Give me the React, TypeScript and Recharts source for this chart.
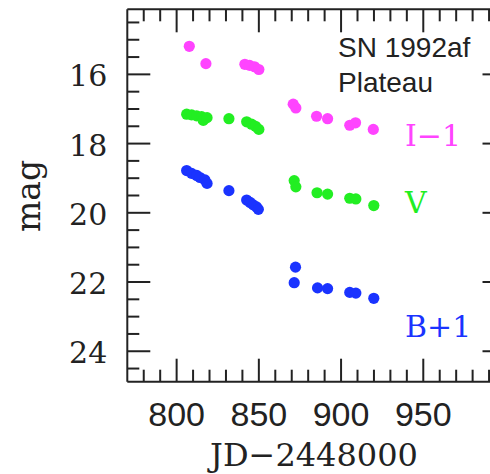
import React from 'react';
import { ScatterChart, Scatter, XAxis, YAxis } from 'recharts';

// I-1 band (JD-2448000, mag)
const I_JD = [807.7, 817.8, 841.5, 844.4, 847.4, 850.0, 870.9, 872.5, 885.1, 891.8, 905.3, 908.8, 919.6];
const I_MAG = [15.19, 15.69, 15.71, 15.74, 15.78, 15.86, 16.86, 16.97, 17.21, 17.28, 17.47, 17.40, 17.59];

// V band
const V_JD = [806.1, 809.1, 812.2, 815.2, 816.2, 818.5, 831.8, 842.6, 845.6, 848.0, 850.0, 871.5, 872.5, 885.4, 891.8, 905.3, 909.0, 919.9];
const V_MAG = [17.15, 17.17, 17.2, 17.22, 17.33, 17.25, 17.28, 17.37, 17.44, 17.5, 17.59, 19.07, 19.25, 19.42, 19.46, 19.58, 19.6, 19.79];

// B+1 band
const B_JD = [806.1, 809.1, 812.2, 814.2, 817.2, 818.5, 831.8, 842.6, 844.7, 846.6, 848.6, 849.7, 872.3, 871.5, 885.7, 891.8, 905.3, 909.0, 919.9];
const B_MAG = [18.78, 18.86, 18.92, 18.98, 19.05, 19.15, 19.36, 19.63, 19.7, 19.77, 19.83, 19.9, 21.57, 22.02, 22.17, 22.19, 22.3, 22.32, 22.47];

const X_MAJOR = [800, 850, 900, 950];
const X_TICKS = [780, 790, 800, 810, 820, 830, 840, 850, 860, 870, 880, 890, 900, 910, 920, 930, 940, 950, 960, 970, 980, 990];
const Y_MAJOR = [16, 18, 20, 22, 24];
const Y_TICKS = [14.5, 15, 15.5, 16, 16.5, 17, 17.5, 18, 18.5, 19, 19.5, 20, 20.5, 21, 21.5, 22, 22.5, 23, 23.5, 24, 24.5];

const toPoints = (jd: number[], mag: number[]) => jd.map((x, i) => ({ jd: x, mag: mag[i] }));

const I_DATA = toPoints(I_JD, I_MAG);
const V_DATA = toPoints(V_JD, V_MAG);
const B_DATA = toPoints(B_JD, B_MAG);

const INK = '#222';
const MAGENTA = '#ff44ff';
const GREEN = '#22ee22';
const BLUE = '#1a33ff';
const SERIF = '"DejaVu Serif", serif';
const SANS = '"Liberation Sans", Arial, sans-serif';

const MAJOR_LEN = 23;
const MINOR_LEN = 12;

const Dot = (props: any) => {
  const { cx, cy, fill } = props;
  if (cx == null || cy == null) return null;
  return <circle cx={cx} cy={cy} r={5.6} fill={fill} />;
};

const makeXTick = (side: 'top' | 'bottom') => (props: any) => {
  const { x, y, payload } = props;
  const major = X_MAJOR.includes(payload.value);
  const len = major ? MAJOR_LEN : MINOR_LEN;
  const dir = side === 'bottom' ? -1 : 1;
  return (
    <g>
      <line x1={x} y1={y} x2={x} y2={y + dir * len} stroke={INK} strokeWidth={2} />
      {side === 'bottom' && major && (
        <text x={x} y={y + 44} textAnchor="middle" fontFamily={SANS} fontSize={34} fill={INK}>
          {payload.value}
        </text>
      )}
    </g>
  );
};

const makeYTick = (side: 'left' | 'right') => (props: any) => {
  const { x, y, payload } = props;
  const major = Y_MAJOR.includes(payload.value);
  const len = major ? MAJOR_LEN : MINOR_LEN;
  const dir = side === 'left' ? 1 : -1;
  return (
    <g>
      <line x1={x} y1={y} x2={x + dir * len} y2={y} stroke={INK} strokeWidth={2} />
      {side === 'left' && major && (
        <text x={x - 20} y={y + 12} textAnchor="end" fontFamily={SERIF} fontSize={30} fill={INK}>
          {payload.value}
        </text>
      )}
    </g>
  );
};

const W = 520;
const H = 474;
const PLOT_LEFT = 127.3;
const PLOT_TOP = 9.3;
const PLOT_RIGHT = 505.5;
const PLOT_BOTTOM = 381.7;
const AX = 1; // thickness reserved for each axis

export default function App() {
  const axisLine = { stroke: INK, strokeWidth: 2 };
  return (
    <div style={{ position: 'fixed', left: 0, top: 0, width: 490, height: 474, overflow: 'hidden', background: '#fff' }}>
      <ScatterChart
        width={W}
        height={H}
        margin={{
          top: PLOT_TOP - AX,
          left: PLOT_LEFT - AX,
          right: W - PLOT_RIGHT - AX,
          bottom: H - PLOT_BOTTOM - AX,
        }}
      >
        <XAxis
          xAxisId="b"
          type="number"
          dataKey="jd"
          domain={[770, 1000]}
          ticks={X_TICKS}
          interval={0}
          height={AX}
          tickSize={0}
          tickMargin={0}
          tickLine={false}
          axisLine={axisLine}
          tick={makeXTick('bottom')}
        />
        <XAxis
          xAxisId="t"
          orientation="top"
          type="number"
          dataKey="jd"
          domain={[770, 1000]}
          ticks={X_TICKS}
          interval={0}
          height={AX}
          tickSize={0}
          tickMargin={0}
          tickLine={false}
          axisLine={axisLine}
          tick={makeXTick('top')}
        />
        <YAxis
          yAxisId="l"
          type="number"
          dataKey="mag"
          reversed
          domain={[14.12, 24.88]}
          ticks={Y_TICKS}
          interval={0}
          width={AX}
          tickSize={0}
          tickMargin={0}
          tickLine={false}
          axisLine={axisLine}
          tick={makeYTick('left')}
        />
        <YAxis
          yAxisId="r"
          orientation="right"
          type="number"
          dataKey="mag"
          reversed
          domain={[14.12, 24.88]}
          ticks={Y_TICKS}
          interval={0}
          width={AX}
          tickSize={0}
          tickMargin={0}
          tickLine={false}
          axisLine={axisLine}
          tick={makeYTick('right')}
        />
        <Scatter data={I_DATA} xAxisId="b" yAxisId="l" fill={MAGENTA} shape={<Dot />} isAnimationActive={false} />
        <Scatter data={V_DATA} xAxisId="b" yAxisId="l" fill={GREEN} shape={<Dot />} isAnimationActive={false} />
        <Scatter data={B_DATA} xAxisId="b" yAxisId="l" fill={BLUE} shape={<Dot />} isAnimationActive={false} />
        <Scatter data={I_DATA} xAxisId="t" yAxisId="r" fill="none" shape={() => <g />} isAnimationActive={false} />
      </ScatterChart>
      <svg width={490} height={474} style={{ position: 'absolute', left: 0, top: 0, pointerEvents: 'none' }}>
        <text x={338} y={57} fontFamily={SANS} fontSize={28} fill={INK}>SN 1992af</text>
        <text x={338} y={92} fontFamily={SANS} fontSize={28} fill={INK}>Plateau</text>
        <text x={405} y={146} fontFamily={SERIF} fontSize={30} fill={MAGENTA}>I−1</text>
        <text x={405} y={213} fontFamily={SERIF} fontSize={30} fill={GREEN}>V</text>
        <text x={405} y={337} fontFamily={SERIF} fontSize={30} fill={BLUE}>B+1</text>
        <text x={314} y={466} textAnchor="middle" fontFamily={SERIF} fontSize={32} fill={INK}>JD−2448000</text>
        <text x={40} y={196} textAnchor="middle" transform="rotate(-90 40 196)" fontFamily={SERIF} fontSize={33} fill={INK}>mag</text>
      </svg>
    </div>
  );
}
